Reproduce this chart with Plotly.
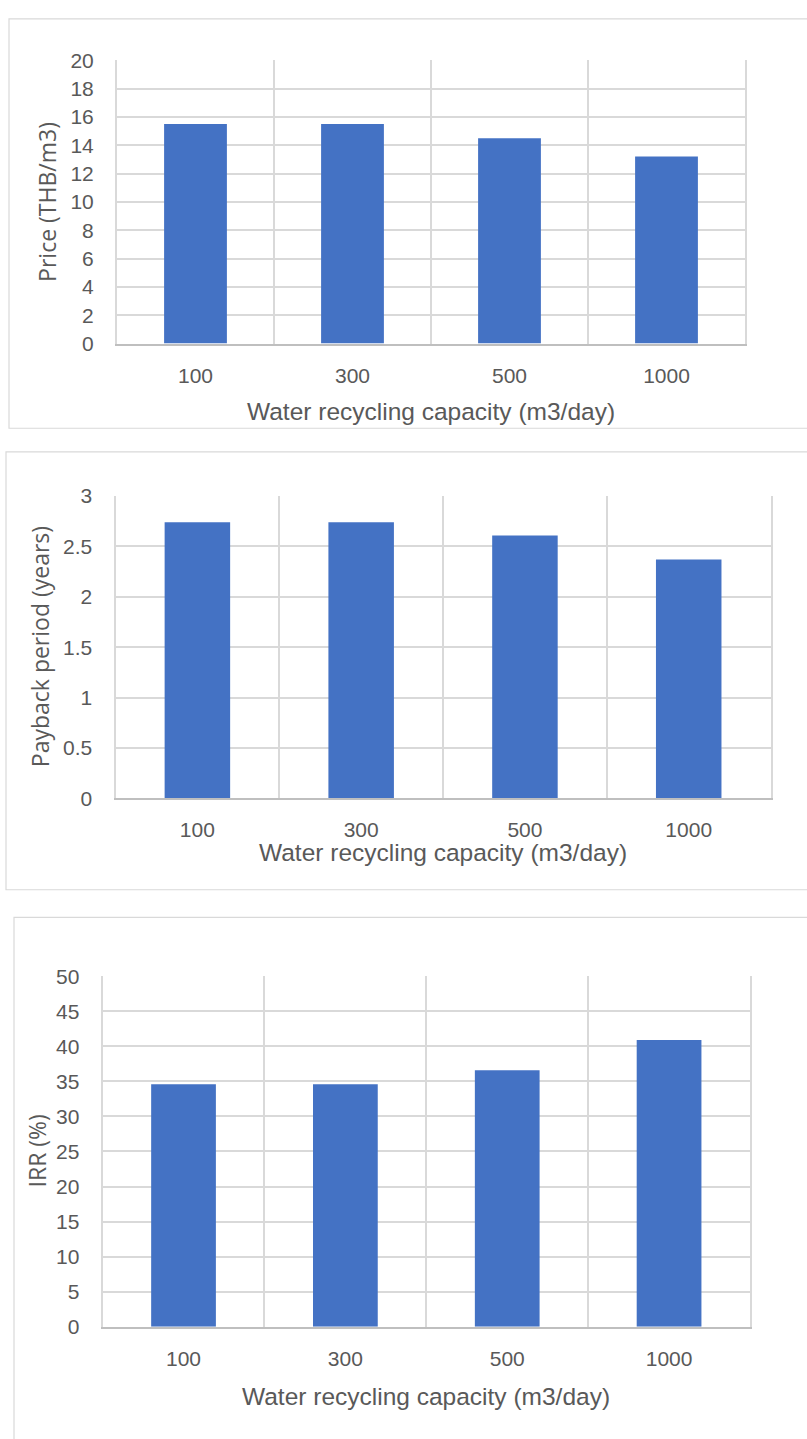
import plotly.graph_objects as go

# ---- data ----
capacity = ["100", "300", "500", "1000"]
price = [15.5, 15.5, 14.5, 13.2]
payback = [2.74, 2.74, 2.61, 2.37]
irr = [34.6, 34.6, 36.6, 40.9]

x_title = "Water recycling capacity (m3/day)"
y_titles = ["Price (THB/m3)", "Payback period (years)", "IRR (%)"]
y_ranges = [(0, 20, 2), (0, 3, 0.5), (0, 50, 5)]
series = [price, payback, irr]

W, H = 807, 1439
TXT = "#595959"
GRID = "#d9d9d9"
BAR = "#4472C4"
TICKFONT = dict(family="Liberation Sans", size=21, color=TXT)

# pixel layout of each panel: plot area (l, r, t, b), box (l, t, b), y-title x, x-title y
panels = [
    dict(plot=(117, 745, 49, 337), box=(9, 7, 423), ytx=47, xty=406),
    dict(plot=(115.5, 770.6, 492, 799), box=(6, 447, 892), ytx=40, xty=854),
    dict(plot=(102.6, 750, 980, 1336), box=(14, 920, 1460), ytx=37, xty=1407),
]

def px(x):
    return x / W

def py(y):
    return 1 - y / H

fig = go.Figure()
shapes = []
annotations = []
for i, (p, vals, yt, yr) in enumerate(zip(panels, series, y_titles, y_ranges)):
    n = "" if i == 0 else str(i + 1)
    xa, ya = "x" + n, "y" + n
    fig.add_trace(go.Bar(x=capacity, y=vals, xaxis=xa, yaxis=ya,
                         marker=dict(color=BAR, line=dict(width=0)),
                         showlegend=False))
    l, r, t, b = p["plot"]
    fig.layout["xaxis" + n] = dict(
        domain=[px(l), px(r)], anchor=ya, type="category",
        tickson="boundaries", showgrid=True, gridcolor=GRID, gridwidth=2,
        showline=True, linecolor="#bfbfbf", linewidth=2,
        ticks="", tickfont=TICKFONT, ticklabelstandoff=12,
        fixedrange=True,
    )
    fig.layout["yaxis" + n] = dict(
        domain=[py(b), py(t)], anchor=xa,
        range=[yr[0], yr[1]], dtick=yr[2], tick0=0,
        showgrid=True, gridcolor=GRID, gridwidth=2,
        zeroline=False, showline=True, linecolor=GRID, linewidth=2, mirror=True,
        ticks="", tickfont=TICKFONT, ticklabelstandoff=17,
        fixedrange=True,
    )
    bl, bt, bb = p["box"]
    shapes.append(dict(type="rect", xref="paper", yref="paper",
                       x0=px(bl), x1=1.05, y0=py(bb), y1=py(bt),
                       line=dict(color=GRID, width=1.2), layer="below"))
    annotations.append(dict(text=yt, xref="paper", yref="paper",
                            x=px(p["ytx"]), y=py((t + b) / 2),
                            xanchor="center", yanchor="middle", textangle=-90,
                            showarrow=False,
                            font=dict(family="Open Sans", size=23, color=TXT)))
    annotations.append(dict(text=x_title, xref="paper", yref="paper",
                            x=px((l + r) / 2), y=py(p["xty"]),
                            xanchor="center", yanchor="middle",
                            showarrow=False,
                            font=dict(family="Liberation Sans", size=24.5, color=TXT)))

fig.update_layout(
    width=W, height=H,
    margin=dict(l=0, r=0, t=0, b=0),
    paper_bgcolor="white", plot_bgcolor="white",
    bargap=0.6, hovermode=False,
    shapes=shapes, annotations=annotations,
)

fig.write_html(
    "out.html",
    config={"displayModeBar": False, "staticPlot": True},
    post_script="document.body.style.margin='0';document.body.style.overflow='hidden';",
)
